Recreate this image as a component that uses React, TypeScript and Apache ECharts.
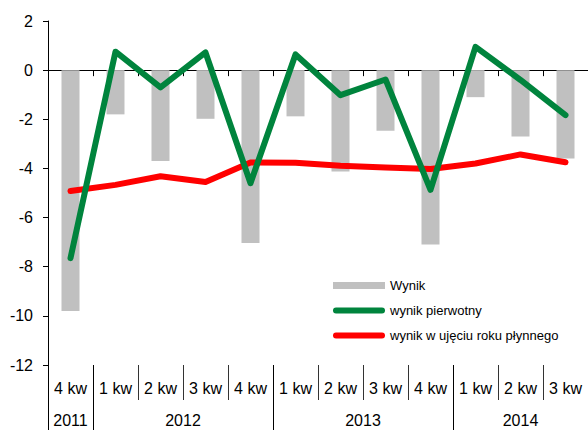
import React, { useEffect, useRef } from "react";
import * as echarts from "echarts";

const quarters = ["4 kw", "1 kw", "2 kw", "3 kw", "4 kw", "1 kw", "2 kw", "3 kw", "4 kw", "1 kw", "2 kw", "3 kw"];
const years = ["2011", "2012", "2013", "2014"];
const quartersPerYear = [1, 4, 4, 3];
const wynik = [-9.8, -1.8, -3.7, -1.98, -7.03, -1.88, -4.13, -2.47, -7.1, -1.1, -2.7, -3.6];
const pierwotny = [-7.65, 0.75, -0.7, 0.72, -4.6, 0.64, -1.02, -0.38, -4.87, 0.95, -0.4, -1.83];
const plynny = [-4.92, -4.67, -4.32, -4.55, -3.76, -3.77, -3.89, -3.96, -4.02, -3.8, -3.43, -3.75];
const yTicks = { min: -12, max: 2, interval: 2 };

const FONT = "'Liberation Sans', Arial, sans-serif";
const LINE_ICON = "path://M3,0 H49 A3,3 0 0 1 49,6 H3 A3,3 0 0 1 3,0 Z";

export default function App() {
  const ref = useRef<HTMLDivElement>(null);
  useEffect(() => {
    if (!ref.current) return;
    const chart = echarts.init(ref.current, null, { renderer: "svg" });
    const boundaries: number[] = [0];
    const centres: number[] = [];
    let acc = 0;
    quartersPerYear.forEach((n, i) => {
      centres.push(acc + n / 2);
      acc += n;
      if (i < quartersPerYear.length - 1) boundaries.push(acc);
    });
    const yearAt = (v: number) => {
      const idx = centres.findIndex((c) => Math.abs(c - v) < 1e-6);
      return idx >= 0 ? years[idx] : "";
    };
    chart.setOption({
      animation: false,
      textStyle: { fontFamily: FONT },
      grid: { left: 48, top: 21, width: 548, height: 344, containLabel: false },
      legend: {
        orient: "vertical",
        left: 333,
        top: 279,
        padding: 0,
        itemWidth: 52,
        itemHeight: 7,
        itemGap: 12,
        textStyle: { fontSize: 13, color: "#000", fontFamily: FONT },
        data: [
          { name: "Wynik", icon: "rect" },
          { name: "wynik pierwotny", icon: LINE_ICON },
          { name: "wynik w ujęciu roku płynnego", icon: LINE_ICON },
        ],
      },
      xAxis: [
        {
          type: "category",
          data: quarters,
          position: "bottom",
          axisLine: { onZero: true, lineStyle: { color: "#000", width: 1 } },
          axisTick: { show: true, length: 6, lineStyle: { color: "#000" } },
          axisLabel: { show: false },
          splitLine: { show: false },
        },
        {
          type: "category",
          data: quarters,
          position: "bottom",
          axisLine: { show: false, onZero: false },
          axisTick: { show: true, length: 35, lineStyle: { color: "#333" } },
          axisLabel: { show: true, fontSize: 16, color: "#000", margin: 15, fontFamily: FONT },
          splitLine: { show: false },
        },
        {
          type: "value",
          min: 0,
          max: quarters.length,
          position: "bottom",
          axisLine: { show: false, onZero: false },
          axisTick: { show: true, length: 65, customValues: boundaries, lineStyle: { color: "#000" } },
          axisLabel: {
            show: true,
            customValues: centres,
            formatter: (v: number) => yearAt(v),
            fontSize: 16,
            color: "#000",
            margin: 47,
            fontFamily: FONT,
          },
          splitLine: { show: false },
        },
      ],
      yAxis: {
        type: "value",
        min: yTicks.min,
        max: yTicks.max,
        interval: yTicks.interval,
        axisLine: { show: true, onZero: false, lineStyle: { color: "#000", width: 1 } },
        axisTick: { show: true, length: 5, lineStyle: { color: "#000" } },
        axisLabel: { fontSize: 16, color: "#000", margin: 15, fontFamily: FONT },
        splitLine: { show: false },
      },
      series: [
        {
          name: "Wynik",
          type: "bar",
          data: wynik,
          barWidth: 18,
          itemStyle: { color: "#c0c0c0" },
          xAxisIndex: 0,
        },
        {
          name: "wynik pierwotny",
          type: "line",
          data: pierwotny,
          symbol: "none",
          lineStyle: { color: "#00843d", width: 6, cap: "round", join: "round" },
          itemStyle: { color: "#00843d" },
          xAxisIndex: 0,
          z: 4,
        },
        {
          name: "wynik w ujęciu roku płynnego",
          type: "line",
          data: plynny,
          symbol: "none",
          lineStyle: { color: "#ff0000", width: 6, cap: "round", join: "round" },
          itemStyle: { color: "#ff0000" },
          xAxisIndex: 0,
          z: 3,
        },
      ],
    });
    return () => chart.dispose();
  }, []);
  return (
    <div
      ref={ref}
      style={{ position: "fixed", left: 0, top: 0, width: 588, height: 430, background: "#fff" }}
    />
  );
}
